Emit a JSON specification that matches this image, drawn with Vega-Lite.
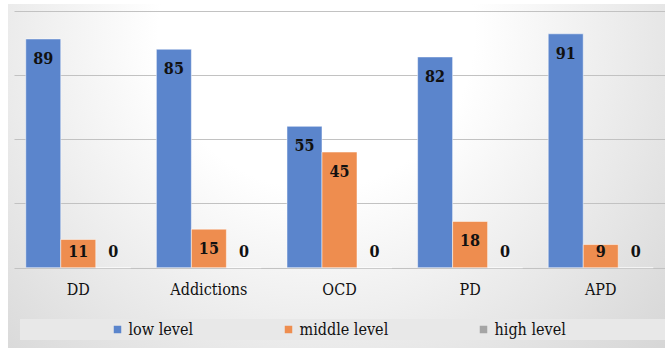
{
  "$schema": "https://vega.github.io/schema/vega-lite/v6.json",
  "width": 657,
  "height": 344,
  "autosize": {"type": "none"},
  "padding": {"left": 8, "top": 4, "right": 0, "bottom": 0},
  "background": "white",
  "config": {
    "view": {"stroke": null, "fill": {"gradient": "radial", "x1": 0.47, "y1": 0.28, "r1": 0, "x2": 0.47, "y2": 0.28, "r2": 0.8,
        "stops": [{"offset": 0, "color": "#ffffff"}, {"offset": 0.3, "color": "#ffffff"}, {"offset": 1, "color": "#cfcfcf"}]}}
  },
  "data": {"values": [
    {"group": "DD", "level": "low level", "value": 89},
    {"group": "DD", "level": "middle level", "value": 11},
    {"group": "DD", "level": "high level", "value": 0},
    {"group": "Addictions", "level": "low level", "value": 85},
    {"group": "Addictions", "level": "middle level", "value": 15},
    {"group": "Addictions", "level": "high level", "value": 0},
    {"group": "OCD", "level": "low level", "value": 55},
    {"group": "OCD", "level": "middle level", "value": 45},
    {"group": "OCD", "level": "high level", "value": 0},
    {"group": "PD", "level": "low level", "value": 82},
    {"group": "PD", "level": "middle level", "value": 18},
    {"group": "PD", "level": "high level", "value": 0},
    {"group": "APD", "level": "low level", "value": 91},
    {"group": "APD", "level": "middle level", "value": 9},
    {"group": "APD", "level": "high level", "value": 0}
  ]},
  "layer": [
    {
      "mark": {"type": "bar", "stroke": "#ffffff", "strokeOpacity": 0.5, "strokeWidth": 1},
      "encoding": {
        "x": {"field": "group", "type": "nominal", "sort": ["DD", "Addictions", "OCD", "PD", "APD"],
          "scale": {"range": [6, 657], "paddingInner": 0.196, "paddingOuter": 0.09},
          "axis": {"title": null, "orient": "bottom", "offset": -80, "labelPadding": 13, "domain": false, "ticks": false, "labelAngle": 0, "labelFontSize": 16, "labelColor": "#111111", "labelFont": "DejaVu Serif Condensed", "grid": false}},
        "xOffset": {"field": "level", "type": "nominal", "sort": ["low level", "middle level", "high level"], "scale": {"paddingInner": 0, "paddingOuter": 0}},
        "y": {"field": "value", "type": "quantitative",
          "scale": {"domain": [-31.25, 102.6], "nice": false, "zero": false},
          "axis": {"title": null, "labels": false, "ticks": false, "domain": false, "grid": true, "values": [0, 25, 50, 75, 100], "gridColor": "#c2c2c2", "gridWidth": 1.2}},
        "color": {"field": "level", "type": "nominal", "sort": ["low level", "middle level", "high level"],
          "scale": {"domain": ["low level", "middle level", "high level"], "range": ["#5b85cc", "#ee8d4f", "#a5a5a5"]},
          "legend": {"title": " ", "titleOrient": "right", "titlePadding": 100, "orient": "none", "legendX": 12, "legendY": 315, "direction": "horizontal",
            "fillColor": "#e8e8e8", "padding": 2.5, "labelFontSize": 16, "labelFont": "DejaVu Serif Condensed", "labelColor": "#111111",
            "symbolType": "square", "symbolSize": 56, "symbolStrokeWidth": 0, "labelOffset": 3, "columnPadding": -8, "symbolOffset": 87}}
      }
    },
    {
      "transform": [{"filter": "datum.value >= 14"}],
      "mark": {"type": "text", "fontWeight": "bold", "fontSize": 16, "font": "DejaVu Serif Condensed", "color": "#111111", "baseline": "middle", "dy": 20},
      "encoding": {
        "x": {"field": "group", "type": "nominal", "sort": ["DD", "Addictions", "OCD", "PD", "APD"]},
        "xOffset": {"field": "level", "type": "nominal", "sort": ["low level", "middle level", "high level"]},
        "y": {"field": "value", "type": "quantitative"},
        "text": {"field": "value", "type": "quantitative"}
      }
    },
    {
      "transform": [{"filter": "datum.value < 14"}],
      "mark": {"type": "text", "fontWeight": "bold", "fontSize": 16, "font": "DejaVu Serif Condensed", "color": "#111111", "baseline": "middle", "dy": -16},
      "encoding": {
        "x": {"field": "group", "type": "nominal", "sort": ["DD", "Addictions", "OCD", "PD", "APD"]},
        "xOffset": {"field": "level", "type": "nominal", "sort": ["low level", "middle level", "high level"]},
        "y": {"datum": 0, "type": "quantitative"},
        "text": {"field": "value", "type": "quantitative"}
      }
    }
  ]
}
